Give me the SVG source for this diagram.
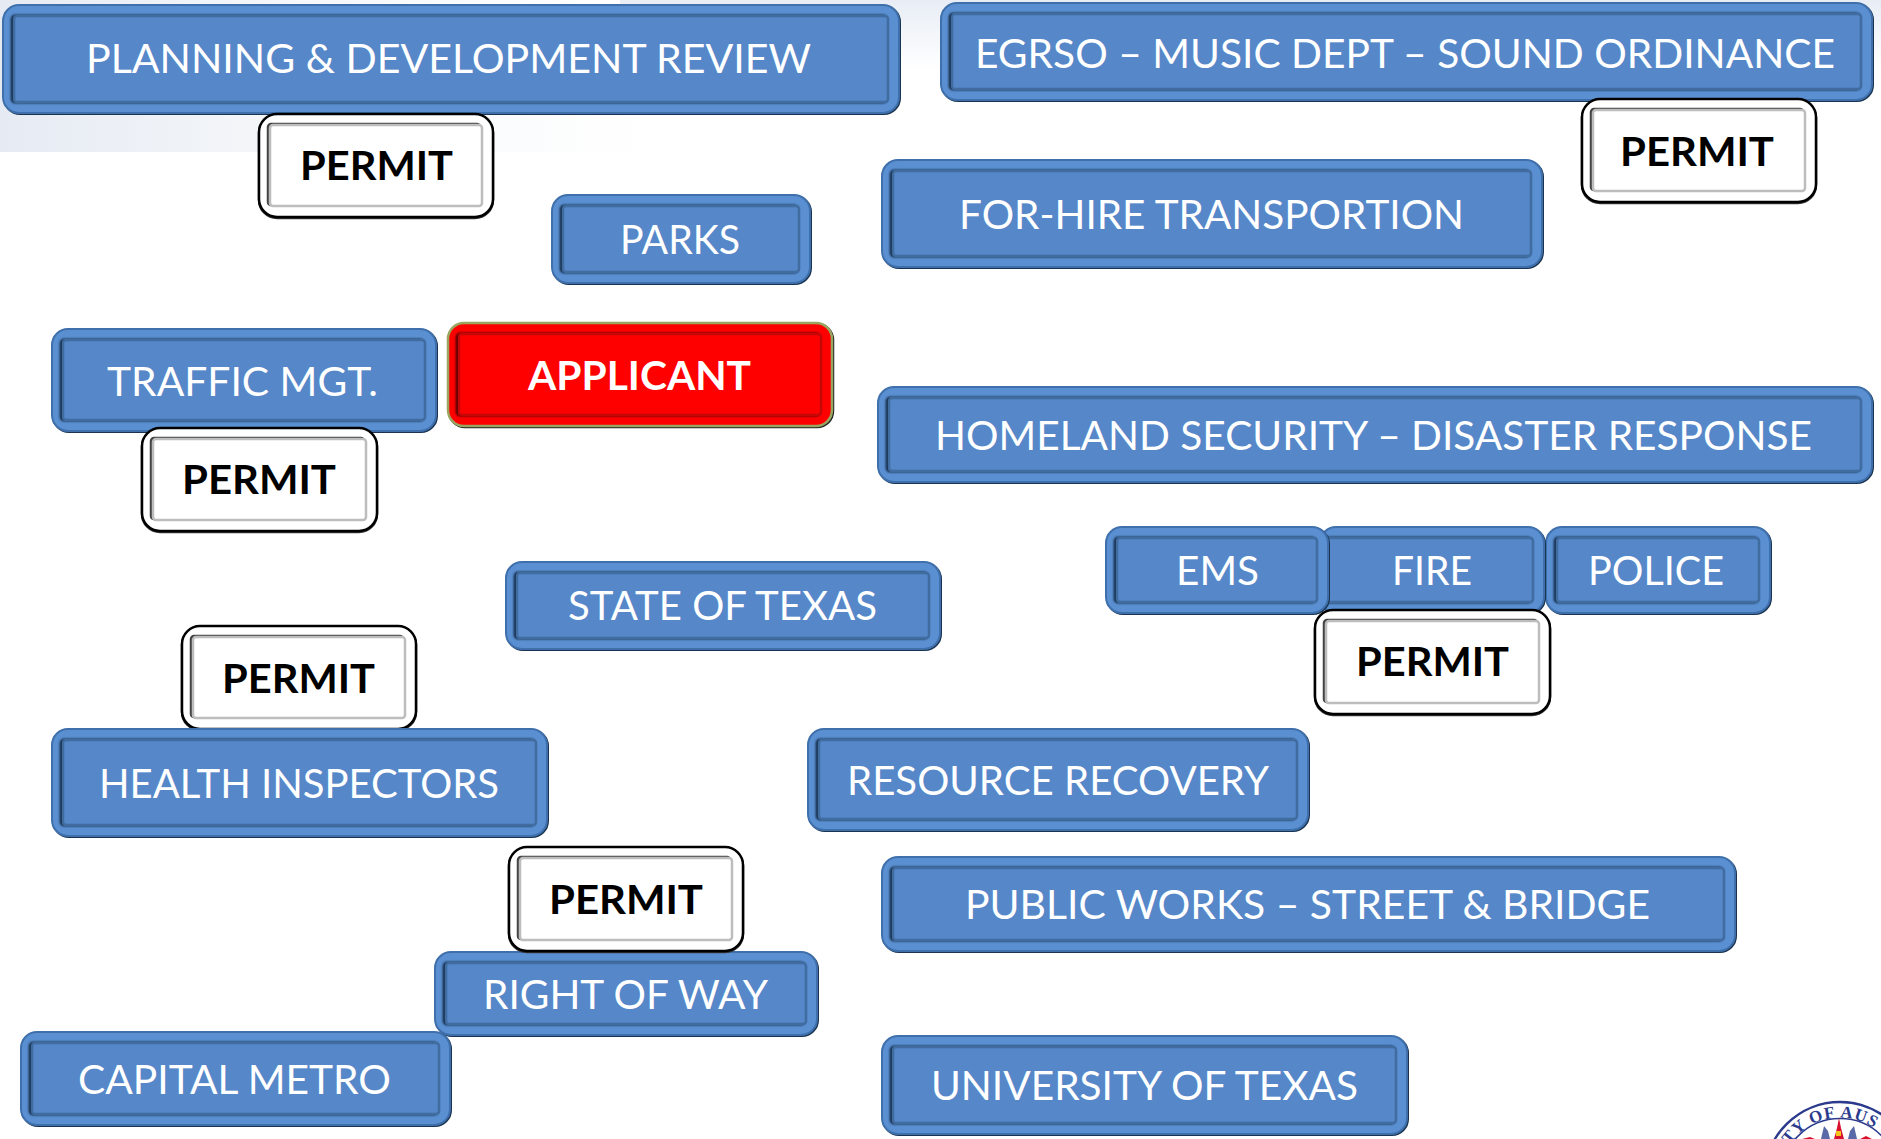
<svg xmlns="http://www.w3.org/2000/svg" width="1881" height="1139" viewBox="0 0 1881 1139">
<style>
text{font-family:Lato,"Liberation Sans",sans-serif;text-anchor:start}
.b rect:nth-child(1){fill:#5a8fd2;stroke:#3f70ab;stroke-width:2;filter:drop-shadow(1.5px 1px .6px #1a3350)}
.b rect:nth-child(2){fill:#5587c9;stroke:#416c9f;stroke-width:2.5;filter:drop-shadow(-2px 0 .8px #10263f)}
.b text{fill:#fff;font-size:41px}
.p rect:nth-child(1){fill:#fff;stroke:#000;stroke-width:2.5;filter:drop-shadow(.8px 1px .4px #333)}
.p rect:nth-child(2){fill:#fff;stroke:#bdbdbd;stroke-width:2.5;filter:drop-shadow(-1.5px -.5px .7px #444)}
.p text{fill:#000;font-size:41px;font-weight:700}
.r rect:nth-child(1){fill:#f00;stroke:#9aa65f;stroke-width:2.5;filter:drop-shadow(1px 1px .5px #222)}
.r rect:nth-child(2){fill:#f00;stroke:#c40808;stroke-width:2.5;filter:drop-shadow(-2px 0 .8px #400)}
.r text{fill:#fff;font-size:41px;font-weight:700}
</style>
<defs>
<linearGradient id="bg" x1="0" y1="0" x2="1" y2="0"><stop offset="0" stop-color="#e6ebf3"/><stop offset="0.45" stop-color="#f5f7fa"/><stop offset="1" stop-color="#fff"/></linearGradient>
<linearGradient id="bg2" x1="0" y1="0" x2="0" y2="1"><stop offset="0" stop-color="#e8edf5"/><stop offset="1" stop-color="#fff"/></linearGradient>
<path id="sealArc" d="M1780 1177.6A60 60 0 0 1 1900 1177.6"/>
</defs>
<rect width="1881" height="1139" fill="#fff"/>
<rect x="0" y="0" width="650" height="152" fill="url(#bg)"/>
<rect x="620" y="0" width="1261" height="70" fill="url(#bg2)"/>
<g id="planning" class="b"><rect x="3" y="5" width="896" height="108" rx="16"/><rect x="14" y="16" width="874" height="86" rx="3"/><text x="86" y="73" textLength="725" lengthAdjust="spacingAndGlyphs">PLANNING &amp; DEVELOPMENT REVIEW</text></g>
<g id="egrso" class="b"><rect x="941" y="3" width="931" height="97" rx="16"/><rect x="952" y="14" width="909" height="75" rx="3"/><text x="975" y="68" textLength="860" lengthAdjust="spacingAndGlyphs">EGRSO – MUSIC DEPT – SOUND ORDINANCE</text></g>
<g id="permit-planning" class="p"><rect x="259" y="114" width="234" height="103" rx="18"/><rect x="270" y="125" width="212" height="81" rx="3"/><text x="300" y="180" textLength="153" lengthAdjust="spacingAndGlyphs">PERMIT</text></g>
<g id="parks" class="b"><rect x="552" y="195" width="258" height="88" rx="16"/><rect x="563" y="206" width="236" height="66" rx="3"/><text x="620" y="254" textLength="120" lengthAdjust="spacingAndGlyphs">PARKS</text></g>
<g id="for-hire" class="b"><rect x="882" y="160" width="660" height="107" rx="16"/><rect x="893" y="171" width="638" height="85" rx="3"/><text x="959" y="229" textLength="505" lengthAdjust="spacingAndGlyphs">FOR-HIRE TRANSPORTION</text></g>
<g id="permit-egrso" class="p"><rect x="1582" y="99" width="234" height="103" rx="18"/><rect x="1593" y="110" width="212" height="81" rx="3"/><text x="1620" y="166" textLength="154" lengthAdjust="spacingAndGlyphs">PERMIT</text></g>
<g id="traffic" class="b"><rect x="52" y="329" width="384" height="102" rx="16"/><rect x="63" y="340" width="362" height="80" rx="3"/><text x="107" y="396" textLength="271" lengthAdjust="spacingAndGlyphs">TRAFFIC MGT.</text></g>
<g id="applicant" class="r"><rect x="448" y="323" width="384" height="103" rx="16"/><rect x="459" y="334" width="362" height="81" rx="3"/><text x="528" y="390" textLength="223" lengthAdjust="spacingAndGlyphs">APPLICANT</text></g>
<g id="permit-traffic" class="p"><rect x="142" y="428" width="235" height="103" rx="18"/><rect x="153" y="439" width="213" height="81" rx="3"/><text x="182" y="494" textLength="154" lengthAdjust="spacingAndGlyphs">PERMIT</text></g>
<g id="homeland" class="b"><rect x="878" y="387" width="994" height="95" rx="16"/><rect x="889" y="398" width="972" height="73" rx="3"/><text x="935" y="450" textLength="877" lengthAdjust="spacingAndGlyphs">HOMELAND SECURITY – DISASTER RESPONSE</text></g>
<g id="police" class="b"><rect x="1546" y="527" width="224" height="86" rx="16"/><rect x="1557" y="538" width="202" height="64" rx="3"/><text x="1588" y="585" textLength="136" lengthAdjust="spacingAndGlyphs">POLICE</text></g>
<g id="fire" class="b"><rect x="1320" y="527" width="224" height="86" rx="16"/><rect x="1326" y="538" width="207" height="64" rx="3"/><text x="1392" y="585" textLength="80" lengthAdjust="spacingAndGlyphs">FIRE</text></g>
<g id="ems" class="b"><rect x="1106" y="527" width="222" height="86" rx="16"/><rect x="1117" y="538" width="200" height="64" rx="3"/><text x="1176" y="585" textLength="83" lengthAdjust="spacingAndGlyphs">EMS</text></g>
<g id="permit-fire" class="p"><rect x="1315" y="610" width="235" height="104" rx="18"/><rect x="1326" y="621" width="213" height="82" rx="3"/><text x="1356" y="676" textLength="153" lengthAdjust="spacingAndGlyphs">PERMIT</text></g>
<g id="state" class="b"><rect x="506" y="562" width="434" height="87" rx="16"/><rect x="517" y="573" width="412" height="65" rx="3"/><text x="568" y="620" textLength="309" lengthAdjust="spacingAndGlyphs">STATE OF TEXAS</text></g>
<g id="permit-health" class="p"><rect x="182" y="626" width="234" height="103" rx="18"/><rect x="193" y="637" width="212" height="81" rx="3"/><text x="222" y="693" textLength="153" lengthAdjust="spacingAndGlyphs">PERMIT</text></g>
<g id="health" class="b"><rect x="52" y="729" width="495" height="107" rx="16"/><rect x="63" y="740" width="473" height="85" rx="3"/><text x="99" y="798" textLength="400" lengthAdjust="spacingAndGlyphs">HEALTH INSPECTORS</text></g>
<g id="resource" class="b"><rect x="808" y="729" width="500" height="101" rx="16"/><rect x="819" y="740" width="478" height="79" rx="3"/><text x="847" y="795" textLength="422" lengthAdjust="spacingAndGlyphs">RESOURCE RECOVERY</text></g>
<g id="public-works" class="b"><rect x="882" y="857" width="853" height="94" rx="16"/><rect x="893" y="868" width="831" height="72" rx="3"/><text x="965" y="919" textLength="685" lengthAdjust="spacingAndGlyphs">PUBLIC WORKS – STREET &amp; BRIDGE</text></g>
<g id="right-of-way" class="b"><rect x="435" y="952" width="382" height="83" rx="16"/><rect x="446" y="963" width="360" height="61" rx="3"/><text x="483" y="1009" textLength="285" lengthAdjust="spacingAndGlyphs">RIGHT OF WAY</text></g>
<g id="permit-row" class="p"><rect x="509" y="847" width="234" height="104" rx="18"/><rect x="520" y="858" width="212" height="82" rx="3"/><text x="549" y="914" textLength="154" lengthAdjust="spacingAndGlyphs">PERMIT</text></g>
<g id="capital-metro" class="b"><rect x="21" y="1032" width="429" height="93" rx="16"/><rect x="32" y="1043" width="407" height="71" rx="3"/><text x="78" y="1094" textLength="313" lengthAdjust="spacingAndGlyphs">CAPITAL METRO</text></g>
<g id="ut" class="b"><rect x="882" y="1036" width="525" height="98" rx="16"/><rect x="893" y="1047" width="503" height="76" rx="3"/><text x="931" y="1100" textLength="427" lengthAdjust="spacingAndGlyphs">UNIVERSITY OF TEXAS</text></g>

<g id="seal">
<circle cx="1840" cy="1177.6" r="75.6" fill="#fff" stroke="#2b3a8c" stroke-width="2.5"/>
<circle cx="1840" cy="1177.6" r="59" fill="#fff" stroke="#2b3a8c" stroke-width="1.5"/>
<text style="font-family:'Liberation Serif',serif;font-weight:700;font-size:17px;fill:#2b3a8c;letter-spacing:1px;text-anchor:middle"><textPath href="#sealArc" startOffset="44%">TY OF AUS</textPath></text>
<path d="M1831 1139L1834 1128L1836 1118L1838 1128L1841 1139Z" fill="#d8112f" transform="translate(3)"/>
<path d="M1821 1139L1824 1126L1828 1131L1830 1139ZM1848 1139L1850 1131L1854 1126L1857 1139Z" fill="#5a6aa8"/>
<rect x="1836" y="1131" width="5" height="5" fill="#f6c21c"/>
<path d="M1802 1139L1810 1137L1815 1139ZM1860 1139L1866 1136L1872 1139Z" fill="#d8112f"/>
</g>
</svg>
